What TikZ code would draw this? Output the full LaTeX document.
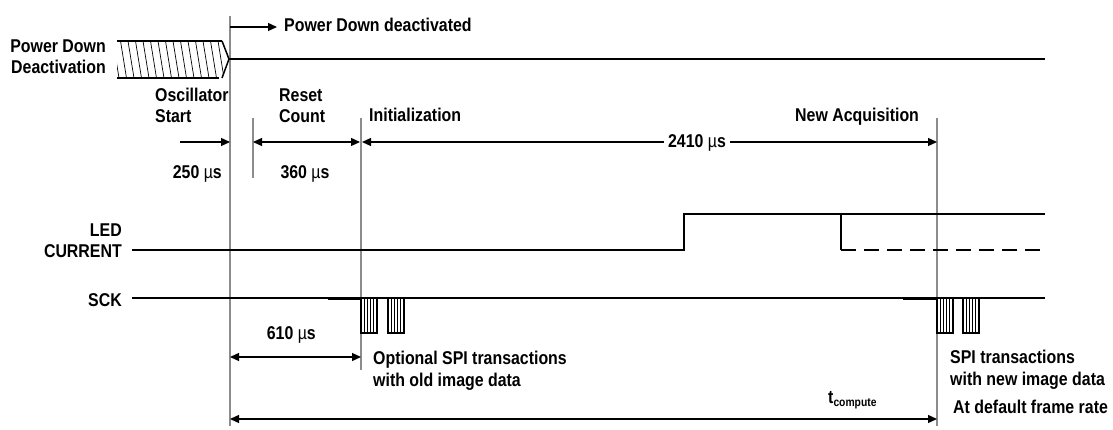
\documentclass[tikz,border=0pt]{standalone}
\usepackage{fontspec}
\setmainfont{Liberation Sans}[FakeStretch=0.86]
\usetikzlibrary{calc,arrows.meta}

\tikzset{
  txt/.style={font=\bfseries\fontsize{18.5}{21}\selectfont,inner sep=0pt},
  sig/.style={line width=1.5pt},
  marker/.style={draw=black!45,line width=1.3pt},
  hatch/.style={line width=0.7pt},
  dimr/.style={line width=1.3pt,-{Triangle[length=9pt,width=8pt]}},
  dimlr/.style={line width=1.3pt,{Triangle[length=9pt,width=8pt]}-{Triangle[length=9pt,width=8pt]}},
}
\newcommand{\us}{{\mdseries µ}s}

\begin{document}
\begin{tikzpicture}[x=1pt,y=-1pt]
\useasboundingbox (0,0) rectangle (1113,430);

    % timing marks
    \draw[marker] (230,16) coordinate (m0t) -- (230,426) coordinate (m0b);
    \draw[marker] (253,118) coordinate (m1t) -- (253,178) coordinate (m1b);
    \draw[marker] (361,118) coordinate (m2t) -- (361,370) coordinate (m2b);
    \draw[marker] (937,118) coordinate (m3t) -- (937,426) coordinate (m3b);

    % power down bus
    \begin{scope}
        \clip (117,41) -- (222,41) -- (229,59) -- (222,78) -- (117,78) -- cycle;
        \foreach \x in {113,120.5,...,227}
            \draw[hatch] (\x,41) -- ++(6,37);
    \end{scope}
    \draw[line width=2.6pt] (117,41) -- (222,41) (117,78) -- (219,78);
    \draw[sig] (222,41) -- (229,59) coordinate (pd) -- (222,78);
    \draw[sig] (pd) -- (1045,59) coordinate (pdend);
    \node[txt,anchor=base east] (pdn1) at (106,53) {Power Down};
    \node[txt,anchor=base east] (pdn2) at (106,74) {Deactivation};

    \coordinate (pdtip) at (277,27);
    \draw[dimr] (pdtip -| m0t) -- (pdtip);
    \node[txt,anchor=base west] (pdoff) at (284,32) {Power Down deactivated};

    % phases
    \node[txt,anchor=base west] (osc1) at (155,102) {Oscillator};
    \node[txt,anchor=base west] (osc2) at (155,123) {Start};
    \node[txt,anchor=base west] (rst1) at (279,102) {Reset};
    \node[txt,anchor=base west] (rst2) at (279,123) {Count};
    \node[txt,anchor=base west] (init) at (369,122) {Initialization};
    \node[txt,anchor=base west] (acq) at (795,122) {New Acquisition};

    % durations
    \coordinate (d1) at (180,142);
    \draw[dimr] (d1) -- (d1 -| m0t);
    \draw[dimlr] (d1 -| m1t) -- ($(d1 -| m2t)+(-1,0)$);
    \draw[dimlr] ($(d1 -| m2t)+(1,0)$) -- (d1 -| m3t);
    \node[txt,anchor=base,fill=white,inner xsep=4pt] (t2410) at (697,148) {2410 \us};
    \node[txt,anchor=base east] (t250) at (222,179) {250 \us};
    \node[txt,anchor=base] (t360) at (305,179) {360 \us};

    % LED current
    \node[txt,anchor=base east] (led1) at (122,237) {LED};
    \node[txt,anchor=base east] (led2) at (122,258) {CURRENT};
    \draw[sig] (132,250) coordinate (ledst) -- (684,250) -- (684,214) -- (1045,214) coordinate (ledend);
    \draw[sig] (841,214) -- (841,250) coordinate (ledlo);
    \draw[sig,dash pattern=on 15pt off 8pt] (ledlo) -- (ledend |- ledlo);

    % SCK
    \node[txt,anchor=base east] (sck) at (122,306) {SCK};
    \draw[sig] (132,298) coordinate (sckst) -- (1045,298) coordinate (sckend);
    \draw[line width=3pt] (328,298) -- (sckst -| m2t);
    \draw[line width=3pt] (903,298) -- (sckst -| m3t);
    \foreach \x in {361,388,937,963} {
        \draw[line width=1.3pt] (\x,298) rectangle ++(16,35);
        \foreach \i in {1,...,4}
            \draw[line width=0.7pt] (\x+\i*3.2,298) -- ++(0,35);
    }

    % SPI windows
    \node[txt,anchor=base east] (t610) at (316,339) {610 \us};
    \coordinate (d2) at (0,357);
    \draw[dimlr] (d2 -| m0t) -- (d2 -| m2t);
    \node[txt,anchor=base west] (opt1) at (373,364) {Optional SPI transactions};
    \node[txt,anchor=base west] (opt2) at (373,386) {with old image data};
    \node[txt,anchor=base west] (new1) at (950,363) {SPI transactions};
    \node[txt,anchor=base west] (new2) at (950,385) {with new image data};

    % frame
    \coordinate (d3) at (0,419);
    \draw[dimlr] (d3 -| m0t) -- (d3 -| m3t);
    \node[txt,anchor=base west] (tcomp) at (828,403) {t\raisebox{-3pt}{\fontsize{12}{12}\selectfont compute}};
    \node[txt,anchor=base west] (rate) at (953,413) {At default frame rate};

\end{tikzpicture}
\end{document}
